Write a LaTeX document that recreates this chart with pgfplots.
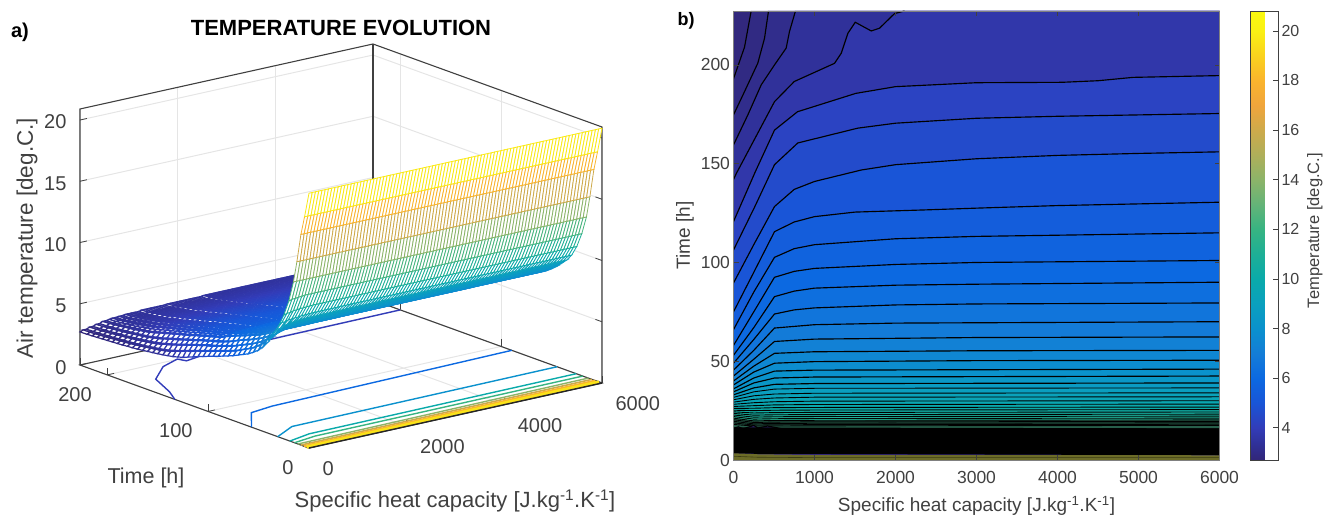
\documentclass[border=0pt]{standalone}
\usepackage{pgfplots}
\usepackage{pgfplotstable}
\usepackage{fontspec}
\usepackage{etoolbox}
\setmainfont{Liberation Sans}
\pgfplotsset{compat=1.18}
\pgfplotsset{colormap={mymap}{rgb255(27)=(50,38,120) rgb255(33)=(48,48,150) rgb255(40)=(50,60,185) rgb255(50)=(25,85,215) rgb255(60)=(12,105,225) rgb255(70)=(20,125,215) rgb255(80)=(10,145,205) rgb255(90)=(10,160,190) rgb255(100)=(10,170,170) rgb255(110)=(30,175,150) rgb255(120)=(55,180,130) rgb255(130)=(100,180,120) rgb255(140)=(140,180,105) rgb255(150)=(175,175,90) rgb255(160)=(205,170,75) rgb255(170)=(240,165,60) rgb255(180)=(250,180,45) rgb255(190)=(250,210,30) rgb255(200)=(250,240,20) rgb255(208)=(250,250,15)}}
\definecolor{axgray}{gray}{0.25}
\pgfplotstableread{
t c0 c120 c240 c360 c480 c600 c720 c840 c960 c1500 c2000 c3000 c6000
227 2.7 2.81 2.92 3.03 3.15 3.2 3.24 3.27 3.31 3.37 3.4 3.44 3.48
220 2.72 2.83 2.95 3.06 3.19 3.24 3.28 3.32 3.36 3.4 3.45 3.51 3.55
215 2.74 2.85 2.97 3.1 3.23 3.28 3.34 3.37 3.4 3.47 3.53 3.58 3.62
210 2.76 2.88 3.01 3.14 3.27 3.34 3.38 3.41 3.46 3.54 3.61 3.66 3.7
205 2.79 2.91 3.05 3.18 3.33 3.39 3.43 3.48 3.52 3.61 3.69 3.74 3.8
200 2.81 2.94 3.09 3.23 3.38 3.43 3.51 3.55 3.61 3.69 3.78 3.84 3.9
195 2.84 2.98 3.13 3.27 3.43 3.51 3.58 3.64 3.69 3.8 3.88 3.94 4.0
190 2.86 3.01 3.18 3.33 3.51 3.6 3.67 3.72 3.8 3.9 3.98 4.04 4.1
185 2.89 3.05 3.23 3.39 3.58 3.69 3.76 3.84 3.9 4.0 4.08 4.14 4.2
180 2.93 3.09 3.27 3.44 3.66 3.78 3.88 3.94 4.0 4.1 4.18 4.24 4.3
175 2.96 3.14 3.34 3.52 3.78 3.9 4.0 4.06 4.12 4.22 4.3 4.34 4.4
170 3.0 3.19 3.4 3.62 3.9 4.02 4.1 4.16 4.22 4.32 4.4 4.44 4.5
165 3.05 3.25 3.47 3.72 4.02 4.12 4.22 4.28 4.34 4.42 4.5 4.56 4.6
160 3.11 3.32 3.56 3.84 4.14 4.24 4.32 4.38 4.44 4.54 4.6 4.68 4.72
155 3.16 3.38 3.67 3.98 4.26 4.36 4.44 4.5 4.54 4.66 4.72 4.78 4.82
150 3.22 3.45 3.8 4.1 4.38 4.48 4.54 4.6 4.68 4.76 4.82 4.88 4.92
145 3.28 3.55 3.92 4.22 4.48 4.58 4.68 4.74 4.78 4.86 4.92 4.98 5.02
140 3.36 3.67 4.06 4.36 4.6 4.72 4.8 4.84 4.9 4.98 5.04 5.08 5.12
135 3.43 3.8 4.2 4.48 4.74 4.84 4.9 4.96 5.0 5.08 5.14 5.18 5.22
130 3.55 3.96 4.34 4.6 4.86 4.94 5.02 5.06 5.1 5.18 5.23 5.27 5.31
125 3.67 4.12 4.48 4.76 4.98 5.06 5.12 5.18 5.22 5.27 5.33 5.37 5.4
120 3.84 4.26 4.62 4.88 5.1 5.18 5.23 5.27 5.31 5.38 5.42 5.46 5.5
115 4.0 4.42 4.76 5.0 5.22 5.29 5.35 5.38 5.42 5.48 5.52 5.55 5.6
110 4.18 4.56 4.9 5.14 5.33 5.38 5.44 5.48 5.52 5.6 5.66 5.68 5.74
105 4.33 4.7 5.0 5.25 5.55 5.68 5.74 5.78 5.8 5.84 5.86 5.87 5.88
100 4.5 4.85 5.15 5.4 5.72 5.84 5.9 5.94 5.97 6.0 6.01 6.02 6.03
95 4.65 5.0 5.3 5.55 5.9 6.0 6.05 6.08 6.1 6.13 6.15 6.16 6.16
90 4.8 5.15 5.45 5.75 6.07 6.16 6.2 6.23 6.26 6.28 6.29 6.3 6.3
85 4.97 5.3 5.6 5.95 6.22 6.32 6.36 6.38 6.4 6.42 6.43 6.43 6.44
80 5.13 5.46 5.8 6.13 6.39 6.47 6.5 6.53 6.55 6.56 6.57 6.58 6.58
75 5.3 5.64 6.0 6.3 6.55 6.6 6.63 6.66 6.68 6.7 6.72 6.73 6.75
70 5.5 5.87 6.19 6.5 6.75 6.8 6.83 6.85 6.86 6.87 6.88 6.89 6.9
65 5.7 6.08 6.4 6.7 6.97 7.0 7.03 7.05 7.06 7.07 7.08 7.09 7.1
60 5.9 6.3 6.65 6.95 7.2 7.22 7.24 7.25 7.25 7.27 7.28 7.29 7.3
55 6.18 6.6 6.93 7.23 7.43 7.47 7.49 7.5 7.5 7.51 7.52 7.52 7.53
50 6.5 6.94 7.27 7.57 7.72 7.75 7.78 7.8 7.8 7.81 7.82 7.82 7.83
45 6.95 7.42 7.75 7.97 8.1 8.12 8.14 8.15 8.15 8.16 8.17 8.17 8.18
40 7.5 7.98 8.28 8.45 8.52 8.55 8.56 8.57 8.58 8.58 8.59 8.6 8.6
35 8.3 8.6 8.8 8.9 8.95 8.97 8.98 8.98 8.99 9.0 9.0 9.0 9.0
30 9.1 9.3 9.4 9.45 9.5 9.52 9.53 9.54 9.54 9.55 9.55 9.55 9.55
25 10.1 10.2 10.3 10.35 10.38 10.4 10.4 10.4 10.4 10.4 10.4 10.4 10.4
20 11.4 11.5 11.55 11.6 11.6 11.6 11.6 11.6 11.6 11.6 11.6 11.6 11.6
15.4 13.1 13.1 13.1 13.1 13.1 13.1 13.1 13.1 13.1 13.1 13.1 13.1 13.1
12 14.85 14.85 14.85 14.85 14.85 14.85 14.85 14.85 14.85 14.85 14.85 14.85 14.85
8 17.2 17.2 17.2 17.2 17.2 17.2 17.2 17.2 17.2 17.2 17.2 17.2 17.2
4.4 18.75 18.75 18.75 18.75 18.75 18.75 18.75 18.75 18.75 18.75 18.75 18.75 18.75
0 20.8 20.8 20.8 20.8 20.8 20.8 20.8 20.8 20.8 20.8 20.8 20.8 20.8
}\surfdata
% mesh rows far to near; each of the 91 mesh columns uses the typed profile of its block
\gdef\farcoords{}
\gdef\nearcoords{}
\newcount\blk
\foreach \r in {0,...,46}{%
  \pgfplotstablegetelem{\r}{[index]0}\of\surfdata
  \let\tv\pgfplotsretval
  \foreach \i in {0,...,90}{%
    \ifnum\i<16 \blk=\numexpr1+\i*5/9\relax
    \else\ifnum\i<19 \blk=9
    \else\ifnum\i<27 \blk=10
    \else\ifnum\i<38 \blk=11
    \else\ifnum\i<68 \blk=12
    \else \blk=13 \fi\fi\fi\fi\fi
    \pgfplotstablegetelem{\r}{[index]\the\blk}\of\surfdata
    \ifnum\r<39 \xappto\farcoords{(\the\numexpr200*\i/3\relax,\tv,\pgfplotsretval)}\fi
    \ifnum\r>37 \xappto\nearcoords{(\the\numexpr200*\i/3\relax,\tv,\pgfplotsretval)}\fi
  }%
}
\newcommand{\band}[2]{%
  \addplot[forget plot,draw=none,fill,color of colormap={#1 of mymap}] coordinates {#2 (6000,0) (0,0)};
  \addplot[forget plot,line width=1.15pt,color=black] coordinates {#2};}
\newcommand{\bandtop}[2]{%
  \addplot[forget plot,draw=none,fill,color of colormap={#1 of mymap}] coordinates {#2 (6000,227.3) (6000,0) (0,0)};
  \addplot[forget plot,line width=1.15pt,color=black] coordinates {#2};}
\newcommand{\bandlow}[2]{%
  \addplot[forget plot,draw=none,fill,color of colormap={#1 of mymap}] coordinates {#2 (6000,0) (0,0)};
  \addplot[forget plot,line width=0.9pt,color=black] coordinates {#2};}
\newcommand{\banddark}[1]{%
  \addplot[forget plot,draw=none,fill={rgb,255:red,40;green,95;blue,75}] coordinates {#1 (6000,0) (0,0)};
  \addplot[forget plot,line width=0.9pt,color=black] coordinates {#1};}
\begin{document}
\begin{tikzpicture}[x=1pt,y=1pt]
\useasboundingbox (0,0) rectangle (1324,515);
% ---------- panel a
\begin{axis}[
  anchor=origin, at={(309pt,67pt)},
  x={(0.048833pt,0.010833pt)}, y={(-1.0088pt,0.3656pt)}, z={(0pt,12.25pt)},
  xmin=0,xmax=6000,ymin=0,ymax=227,zmin=0,zmax=20.9,
  xtick={0,2000,4000,6000}, ytick={0,100,200}, ztick={0,5,10,15,20},
  tick pos=left,
  grid=major, grid style={gray!20,line width=1pt},
  axis line style={draw=none},
  tick style={axgray,line width=0.8pt}, major tick length=7pt,
  tick label style={font=\fontsize{20}{24}\selectfont,text=axgray},
  xticklabel style={anchor=north west,xshift=10pt,yshift=-10pt},
  yticklabel style={anchor=north east,xshift=-12pt,yshift=-9pt},
  zticklabel style={xshift=-10pt,yshift=-3pt},
  /pgf/number format/1000 sep={},
  /pgf/number format/assume math mode=true,
  scaled ticks=false,
  colormap name=mymap, point meta min=2.7, point meta max=20.8,
  clip=false,
]
\draw[axgray,line width=1.1pt] (axis cs:0,227,0)--(axis cs:0,227,20.9)--(axis cs:6000,227,20.9)--(axis cs:6000,0,20.9)--(axis cs:6000,0,0);
\draw[axgray,line width=1.1pt] (axis cs:6000,227,0)--(axis cs:6000,227,20.9);
\draw[axgray,line width=1.1pt] (axis cs:0,227,0)--(axis cs:6000,227,0)--(axis cs:6000,0,0)--(axis cs:0,0,0)--cycle;
\addplot3[forget plot,line width=1.4pt,color of colormap={72 of mymap}] coordinates {(0,133,0)(200,148,0)(466,174.5,0)(1000,193,0)(1446,200.5,0)(1500,194,0)(1843,197,0)(3560,199,0)(6000,200,0)};
\addplot3[forget plot,line width=1.4pt,color of colormap={182 of mymap}] coordinates {(0,57,0)(508,81.7,0)(1000,85,0)(6000,89.4,0)};
\addplot3[forget plot,line width=1.4pt,color of colormap={293 of mymap}] coordinates {(0,31,0)(537,42.9,0)(6000,44.5,0)};
\addplot3[forget plot,line width=1.4pt,color of colormap={403 of mymap}] coordinates {(0,19,0)(500,24,0)(6000,25.5,0)};
\addplot3[forget plot,line width=1.4pt,color of colormap={514 of mymap}] coordinates {(0,14.4,0)(500,18,0)(6000,19,0)};
\addplot3[forget plot,line width=1.4pt,color of colormap={624 of mymap}] coordinates {(0,11,0)(6000,13.5,0)};
\addplot3[forget plot,line width=1.6pt,color of colormap={735 of mymap}] coordinates {(0,8,0)(6000,10,0)};
\addplot3[forget plot,line width=2.2pt,color of colormap={845 of mymap}] coordinates {(0,5,0)(6000,6.5,0)};
\addplot3[forget plot,line width=3.2pt,color of colormap={930 of mymap}] coordinates {(0,2.5,0)(6000,3,0)};
\draw[black!85,line width=1.4pt] (axis cs:0,0,0)--(axis cs:6000,0,0);
\edef\tmp{\noexpand\addplot3[surf,shader=faceted,fill=white,faceted color=mapped color,line width=1.2pt,mesh/ordering=x varies,mesh/cols=91,mesh/rows=39,z buffer=none] coordinates {\farcoords};}
\tmp
\edef\tmp{\noexpand\addplot3[surf,shader=faceted,fill=white,faceted color=mapped color,line width=0.8pt,mesh/ordering=x varies,mesh/cols=91,mesh/rows=9,z buffer=none] coordinates {\nearcoords};}
\tmp
\end{axis}
\node[font=\fontsize{22.5}{26}\selectfont,text=axgray,rotate=90] at (27,277) {Air temperature [deg.C.]};
\node[font=\fontsize{21.5}{25}\selectfont,text=axgray] at (146,37) {Time [h]};
\node[font=\fontsize{22}{26}\selectfont,text=axgray] at (455,14) {Specific heat capacity [J.kg\textsuperscript{-1}.K\textsuperscript{-1}]};
\node[font=\bfseries\fontsize{22}{26}\selectfont] at (341,487) {TEMPERATURE EVOLUTION};
\node[font=\bfseries\fontsize{20}{24}\selectfont] at (20,483) {a)};
% ---------- panel b
\begin{axis}[
  anchor=south west, at={(733.5pt,55pt)}, scale only axis, width=486pt, height=449pt,
  xmin=0,xmax=6000,ymin=0,ymax=227.3,
  xtick={0,1000,...,6000}, ytick={0,50,100,150,200},
  axis on top, axis line style={gray,line width=0.9pt},
  tick align=inside, tick style={axgray,line width=0.6pt}, major tick length=5pt,
  tick label style={font=\fontsize{17.5}{20}\selectfont,text=axgray},
  xticklabel style={yshift=-8pt},
  label style={font=\fontsize{19}{22}\selectfont,text=axgray},
  xlabel style={yshift=-5.5pt},
  xlabel={Specific heat capacity [J.kg\textsuperscript{-1}.K\textsuperscript{-1}]},
  ylabel={Time [h]},
  /pgf/number format/1000 sep={},
  /pgf/number format/assume math mode=true,
  scaled ticks=false,
  colormap name=mymap, point meta min=2.7, point meta max=20.8,
  colorbar,
  colorbar style={at={(parent axis.north east)},anchor=north west,xshift=22pt,
    width=28pt, height=449pt, ytick={4,6,...,20}, scale only axis,
    ytick pos=right, tick align=inside, major tick length=5pt,
    tick label style={font=\fontsize{16}{19}\selectfont,text=axgray},
    ylabel={Temperature [deg.C.]},
    ylabel style={font=\fontsize{16.5}{20}\selectfont,text=axgray,yshift=-1pt,xshift=5pt},
    axis line style={axgray,line width=0.8pt},
    tick style={axgray,line width=0.6pt},
    /pgf/number format/assume math mode=true},
]
\addplot[forget plot,draw=none,fill,color of colormap={6 of mymap}] coordinates {(0,227.3)(6000,227.3)(6000,0)(0,0)};
\bandtop{12}{(0,193)(136,209)(218,227.3)}
\bandtop{22}{(0,174.7)(136,186.5)(300,200.9)(383,213.5)(432,227.3)}
\bandtop{38}{(0,159.5)(177,174.7)(342,189.9)(506,200)(650,208.5)(691,216.9)(765,227.3)}
\bandtop{55}{(0,142)(38,145.3)(506,181.4)(750,191.6)(1247,200.8)(1330,205.9)(1412,216)(1503,221.6)(1700,217.2)(1803,218.6)(1988,226)(2110,227.3)}
\band{88}{(0,120.7)(270,146)(506,167)(790,176.3)(1510,185.6)(2000,189)(3000,191)(4057,191.2)(4500,192)(4933,193.7)(6000,194.6)}
\band{105}{(0,106.3)(260,128)(506,149.5)(794,160.5)(1535,168)(2000,170.5)(3000,173)(4000,174)(6000,175.4)}
\band{127}{(0,89.6)(250,109)(506,128.3)(750,137)(1000,141)(1577,146.8)(2000,149.5)(3000,152.5)(4000,154.2)(5000,155.2)(6000,156)}
\band{149}{(0,75)(250,95)(506,115.6)(750,120.5)(1000,123.2)(1500,125.5)(2360,126.6)(3000,127.5)(4000,128.8)(6000,130.5)}
\band{166}{(0,66)(250,85)(506,102.6)(750,107)(1000,109)(2000,112)(3000,113.2)(6000,115)}
\band{182}{(0,58)(250,75)(506,92.5)(750,95.5)(1000,97)(2000,99)(3000,100)(6000,101)}
\band{199}{(0,53)(250,67)(506,82.7)(750,85.5)(1000,87)(2000,88.5)(3000,89)(6000,90)}
\band{215}{(0,49)(250,61)(506,73.9)(750,76)(1000,77)(2000,78.5)(3000,79)(6000,79.5)}
\band{232}{(0,45.5)(250,55.5)(506,66.8)(1000,68.5)(2000,69.3)(6000,70)}
\band{249}{(0,42.5)(250,51)(506,60)(1000,61.2)(3000,62)(6000,62.3)}
\band{265}{(0,40)(250,47.5)(506,54)(1000,54.8)(3000,55.3)(6000,55.5)}
\band{282}{(0,38)(250,44.5)(506,49)(1000,49.8)(3000,50.3)(6000,50.5)}
\band{298}{(0,36)(250,41.5)(506,45)(1000,45.5)(6000,46)}
\band{315}{(0,34.5)(250,39)(506,41.5)(1000,42)(6000,42.5)}
\band{331}{(0,33)(250,36.5)(506,38.3)(1000,38.7)(6000,39)}
\bandlow{345}{(0,31.7)(250,34.5)(506,35.9)(1000,36.3)(6000,36.5)}
\bandlow{358}{(0,30.5)(250,32.5)(506,33.4)(1000,33.8)(6000,34)}
\bandlow{371}{(0,29.3)(250,30.7)(506,31.4)(1000,31.8)(6000,32)}
\bandlow{384}{(0,28.2)(250,29)(506,29.5)(1000,29.8)(6000,30)}
\bandlow{397}{(0,27.1)(250,27.5)(506,27.9)(1000,28.1)(6000,28.3)}
\bandlow{410}{(0,26.1)(250,26.2)(506,26.5)(1000,26.6)(6000,26.8)}
\bandlow{423}{(0,25.2)(250,25)(506,25.2)(1000,25.3)(6000,25.5)}
\bandlow{436}{(0,24.4)(250,23.8)(506,24)(1000,24.1)(6000,24.3)}
\bandlow{449}{(0,23.6)(250,22.7)(506,22.9)(1000,23)(6000,23.2)}
\bandlow{462}{(0,22.8)(250,21.7)(506,21.9)(1000,22)(6000,22.2)}
\bandlow{475}{(0,22)(250,20.7)(506,20.9)(1000,21)(6000,21.2)}
\banddark{(0,21.2)(250,19.8)(506,20)(1000,20.1)(6000,20.3)}
\banddark{(0,20.4)(250,19)(506,19.2)(1000,19.3)(6000,19.5)}
\banddark{(0,19.6)(250,18.3)(506,18.5)(1000,18.6)(6000,18.8)}
\banddark{(0,18.8)(250,17.7)(506,17.8)(1000,17.9)(6000,18.1)}
\banddark{(0,18)(250,17.2)(506,17.2)(1000,17.3)(6000,17.5)}
\band{0}{(0,16)(60,16.8)(120,15.8)(250,17.5)(300,16.2)(420,17.2)(600,15.8)(6000,15.7)}
\addplot[forget plot,draw=none,fill=black] coordinates {(0,16.5)(6000,16)(6000,2.4)(0,3.2)};
\addplot[forget plot,draw=none,fill={rgb,255:red,108;green,108;blue,40}] coordinates {(0,3.4)(300,2.9)(1000,2.5)(6000,2.4)(6000,0)(0,0)};
\addplot[forget plot,line width=0.6pt,color={rgb,255:red,60;green,60;blue,20}] coordinates {(0,1.9)(300,1.4)(1000,1.2)(6000,1.2)};
\end{axis}
\node[font=\bfseries\fontsize{18}{22}\selectfont] at (686,494) {b)};
\end{tikzpicture}
\end{document}
